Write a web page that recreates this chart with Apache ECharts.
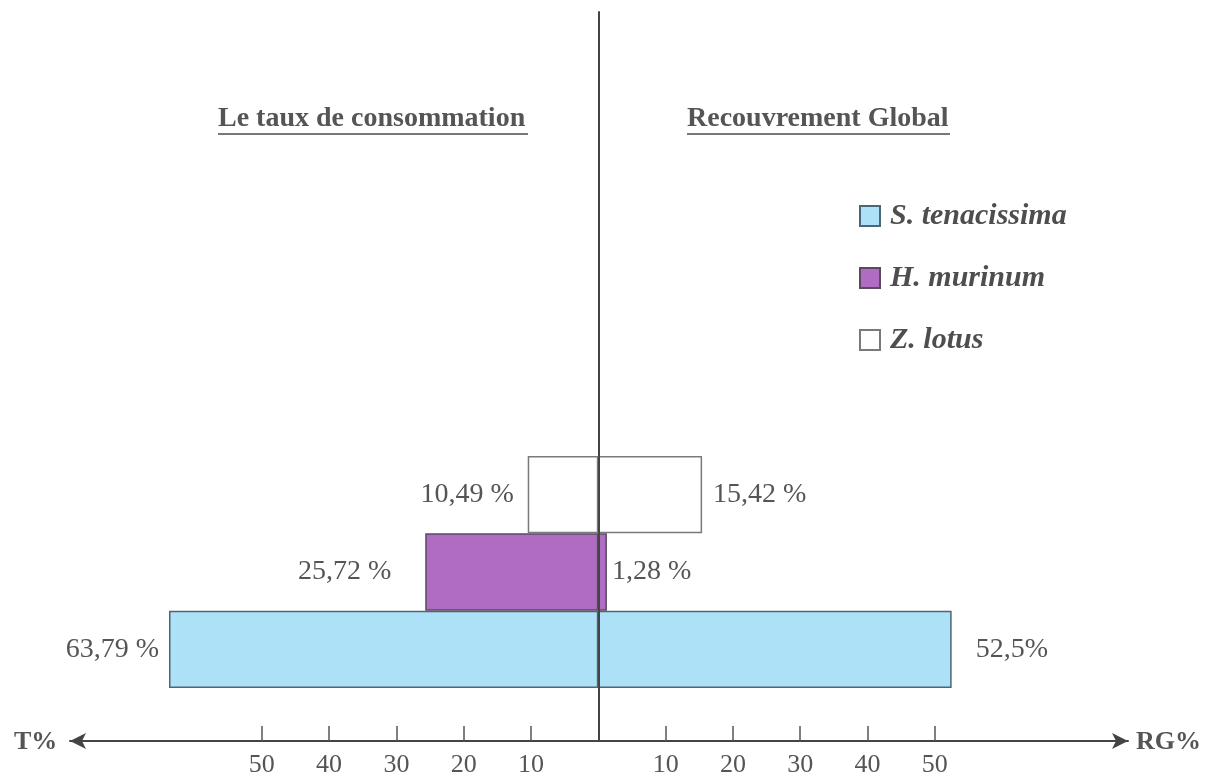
<!DOCTYPE html>
<html>
<head>
<meta charset="utf-8">
<script src="https://cdn.jsdelivr.net/npm/echarts@6/dist/echarts.min.js"></script>
<style>html,body{margin:0;padding:0;background:#fff;}#c{width:1215px;height:778px;}</style>
</head>
<body>
<div id="c"></div>
<script>
var species = ['S. tenacissima', 'H. murinum', 'Z. lotus'];
var consumption = [63.79, 25.72, 10.49];      // T% (left side)
var recouvrement = [52.5, 1.28, 15.42];       // RG% (right side)
var leftLabels = ['63,79 %', '25,72 %', '10,49 %'];
var rightLabels = ['52,5%', '1,28 %', '15,42 %'];
var tickValues = [-50, -40, -30, -20, -10, 10, 20, 30, 40, 50];
var panelTitles = ['Le taux de consommation', 'Recouvrement Global'];
var axisNames = ['T%', 'RG%'];

var fills = ['#ade1f7', '#b06cc2', '#ffffff'];
var borders = ['#4d6675', '#5a4a60', '#7a7a7a'];
var leftDist = [10, 34, 14];
var rightDist = [24, 5, 11];

var FONT = '"Liberation Serif", "DejaVu Serif", serif';
var TXT = '#555';
var XMIN = -78.5, XMAX = 78.7;

var series = [];
species.forEach(function (sp, i) {
  var l = species.map(function () { return '-'; });
  var r = species.map(function () { return '-'; });
  l[i] = -consumption[i];
  r[i] = recouvrement[i];
  var common = {
    name: sp, type: 'bar', stack: 'all', barWidth: '100%',
    xAxisIndex: 1, yAxisIndex: 1, z: 2,
    itemStyle: { color: fills[i], borderColor: borders[i], borderWidth: 1.5 },
    emphasis: { disabled: true }
  };
  series.push(Object.assign({}, common, {
    data: l,
    label: { show: true, position: 'left', distance: leftDist[i], color: TXT, fontFamily: FONT, fontSize: 28,
      formatter: function () { return leftLabels[i]; } }
  }));
  series.push(Object.assign({}, common, {
    data: r,
    label: { show: true, position: 'right', distance: rightDist[i], color: TXT, fontFamily: FONT, fontSize: 28,
      formatter: function () { return rightLabels[i]; } }
  }));
});

var chart = echarts.init(document.getElementById('c'));
chart.setOption({
  animation: false,
  backgroundColor: '#fff',
  grid: [
    { left: 70, right: 87, top: 12, bottom: 36 },
    { left: 70, right: 87, top: 456, bottom: 90 }
  ],
  xAxis: [
    {
      type: 'value', gridIndex: 0, min: XMIN, max: XMAX,
      splitLine: { show: false },
      axisLine: { show: true, onZero: false, symbol: ['arrow', 'arrow'], symbolSize: [12, 16],
        lineStyle: { color: '#444', width: 2 } },
      axisTick: { show: true, inside: true, length: 15, customValues: tickValues,
        lineStyle: { color: '#555', width: 1.5 } },
      axisLabel: { show: true, customValues: tickValues, margin: 11, color: TXT, fontFamily: FONT, fontSize: 26,
        formatter: function (v) { return String(Math.abs(v)); } }
    },
    {
      type: 'value', gridIndex: 1, min: XMIN, max: XMAX, show: false
    }
  ],
  yAxis: [
    {
      type: 'value', gridIndex: 0, min: 0, max: 1, z: 10,
      splitLine: { show: false }, axisTick: { show: false }, axisLabel: { show: false },
      axisLine: { show: true, onZero: true, lineStyle: { color: '#444', width: 2 } }
    },
    {
      type: 'category', gridIndex: 1, data: species, show: false
    }
  ],
  legend: {
    data: species, orient: 'vertical', left: 854, top: 196,
    itemWidth: 20, itemHeight: 20, itemGap: 32, icon: 'rect',
    selectedMode: false,
    textStyle: { fontFamily: FONT, fontStyle: 'italic', fontWeight: 'bold', fontSize: 30, color: '#4e4e4e', padding: [0, 0, 0, 5] }
  },
  graphic: [
    { type: 'text', left: 218, top: 105, style: { text: panelTitles[0], fontFamily: FONT, fontWeight: 'bold', fontSize: 28, fill: TXT } },
    { type: 'rect', left: 218, top: 133, shape: { width: 310, height: 2 }, style: { fill: '#777' } },
    { type: 'text', left: 687, top: 105, style: { text: panelTitles[1], fontFamily: FONT, fontWeight: 'bold', fontSize: 28, fill: TXT } },
    { type: 'rect', left: 687, top: 133, shape: { width: 263, height: 2 }, style: { fill: '#777' } },
    { type: 'text', left: 14, top: 729, style: { text: axisNames[0], fontFamily: FONT, fontWeight: 'bold', fontSize: 26, fill: TXT } },
    { type: 'text', left: 1136, top: 729, style: { text: axisNames[1], fontFamily: FONT, fontWeight: 'bold', fontSize: 26, fill: TXT } }
  ],
  series: series
});
</script>
</body>
</html>
